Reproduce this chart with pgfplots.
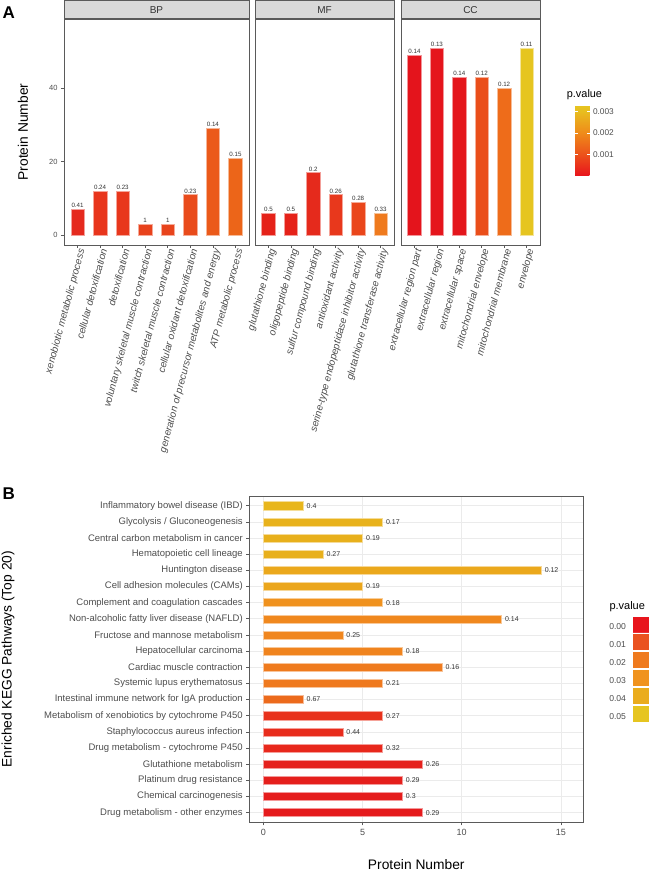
\documentclass[border=0pt]{standalone}
\usepackage{pgfplots}
\pgfplotsset{compat=1.18}
\usepackage{fontspec}
\setmainfont{Liberation Sans}
\newcommand{\fsz}[1]{\fontsize{#1}{#1}\selectfont}
\definecolor{tick}{HTML}{4D4D4D}
\definecolor{lab}{HTML}{333333}
\definecolor{frame}{HTML}{5A5A5A}
\definecolor{stripc}{HTML}{D9D9D9}
\definecolor{gridc}{HTML}{EBEBEB}
% panel A bar colours
\definecolor{bp1}{HTML}{E52A1E}\definecolor{bp2}{HTML}{E8351C}\definecolor{bp3}{HTML}{E8371C}
\definecolor{bp4}{HTML}{E8421C}\definecolor{bp5}{HTML}{E8441C}\definecolor{bp6}{HTML}{E94B1B}
\definecolor{bp7}{HTML}{EB5A1A}\definecolor{bp8}{HTML}{EC6519}
\definecolor{mf1}{HTML}{E52219}\definecolor{mf2}{HTML}{E52219}\definecolor{mf3}{HTML}{E52A1C}
\definecolor{mf4}{HTML}{E8381C}\definecolor{mf5}{HTML}{EA461B}\definecolor{mf6}{HTML}{EF7A1E}
\definecolor{cc1}{HTML}{E4141C}\definecolor{cc2}{HTML}{E5151C}\definecolor{cc3}{HTML}{E4161C}
\definecolor{cc4}{HTML}{EA4E1A}\definecolor{cc5}{HTML}{EE6C1A}\definecolor{cc6}{HTML}{E6C520}
% panel B bar colours (bottom to top)
\definecolor{k1}{HTML}{E51A1C}\definecolor{k2}{HTML}{E51D1C}\definecolor{k3}{HTML}{E51F1C}
\definecolor{k4}{HTML}{E5211C}\definecolor{k5}{HTML}{E8281C}\definecolor{k6}{HTML}{E82C1C}
\definecolor{k7}{HTML}{E8321C}\definecolor{k8}{HTML}{EC6A1C}\definecolor{k9}{HTML}{EF791E}
\definecolor{k10}{HTML}{EF7B1E}\definecolor{k11}{HTML}{F0841E}\definecolor{k12}{HTML}{F0861E}
\definecolor{k13}{HTML}{F0881E}\definecolor{k14}{HTML}{F0921E}\definecolor{k15}{HTML}{EBA61C}
\definecolor{k16}{HTML}{EBA81C}\definecolor{k17}{HTML}{E8B01C}\definecolor{k18}{HTML}{E8B01C}
\definecolor{k19}{HTML}{E8B21C}\definecolor{k20}{HTML}{E8B61C}
% legend B
\definecolor{lg0}{HTML}{E8151D}\definecolor{lg1}{HTML}{EA5220}\definecolor{lg2}{HTML}{EF7A1E}
\definecolor{lg3}{HTML}{F0931E}\definecolor{lg4}{HTML}{EAAC1D}\definecolor{lg5}{HTML}{E6C520}

\newcommand\vb[4]{\addplot[forget plot, ybar, bar width=0.6, bar shift=0pt, fill=#3, draw=#3!45!white, line width=0.5pt,
  nodes near coords={#4}, nodes near coords style={font=\fsz{6.2}, text=lab, anchor=south, inner sep=1.3pt}] coordinates {(#1,#2)};}
\newcommand\hb[4]{\addplot[forget plot, xbar, bar width=0.5, bar shift=0pt, fill=#3, draw=#3!45!white, line width=0.4pt,
  nodes near coords={#4}, nodes near coords style={font=\fsz{7}, text=lab, anchor=west, inner sep=0pt, xshift=3.5pt}] coordinates {(#2,#1)};}

\pgfplotsset{
  base/.style={
    scale only axis, enlargelimits=false,
    axis line style={draw=frame, line width=0.8pt},
    tick style={draw=frame, line width=0.6pt},
    tick align=outside, major tick length=3pt,
    xtick pos=left, ytick pos=left,
    /pgf/number format/assume math mode=true,
  },
  facet/.style={
    base, anchor=north west, height=226pt,
    ymin=-2.72, ymax=58.86,
    xticklabel style={font=\itshape\fsz{10}, text=tick, rotate=75, anchor=north east, inner sep=0pt},
    yticklabel style={font=\fsz{7.5}, text=tick},
    every axis title/.style={at={(0.5,1)}, anchor=south, draw=frame, fill=stripc, line width=0.8pt,
      minimum height=18pt, inner sep=0pt, font=\fsz{10}, text=lab},
  },
}

\begin{document}
\begin{tikzpicture}
\useasboundingbox (0,0) rectangle (650pt,-871pt);

% ---------- Panel A : BP ----------
\begin{axis}[facet, at={(64pt,-19pt)}, width=185pt,
  xmin=0.4, xmax=8.6, xtick={1,...,8},
  xticklabels={xenobiotic metabolic process, cellular detoxification, detoxification,
    voluntary skeletal muscle contraction, twitch skeletal muscle contraction,
    cellular oxidant detoxification, generation of precursor metabolites and energy, ATP metabolic process},
  ytick={0,20,40},
  title=BP, title style={minimum width=185pt},
  ylabel={Protein Number}, ylabel style={at={(axis description cs:-0.2216,0.5)}, anchor=center, font=\fsz{13.8}},
]
\vb{1}{7}{bp1}{0.41}
\vb{2}{12}{bp2}{0.24}
\vb{3}{12}{bp3}{0.23}
\vb{4}{3}{bp4}{1}
\vb{5}{3}{bp5}{1}
\vb{6}{11}{bp6}{0.23}
\vb{7}{29}{bp7}{0.14}
\vb{8}{21}{bp8}{0.15}
\end{axis}

% ---------- Panel A : MF ----------
\begin{axis}[facet, at={(255pt,-19pt)}, width=139pt,
  xmin=0.4, xmax=6.6, xtick={1,...,6}, ytick=\empty,
  xticklabels={glutathione binding, oligopeptide binding, sulfur compound binding, antioxidant activity,
    serine-type endopeptidase inhibitor activity, glutathione transferase activity},
  title=MF, title style={minimum width=139pt},
]
\vb{1}{6}{mf1}{0.5}
\vb{2}{6}{mf2}{0.5}
\vb{3}{17}{mf3}{0.2}
\vb{4}{11}{mf4}{0.26}
\vb{5}{9}{mf5}{0.28}
\vb{6}{6}{mf6}{0.33}
\end{axis}

% ---------- Panel A : CC ----------
\begin{axis}[facet, at={(401pt,-19pt)}, width=139pt,
  xmin=0.4, xmax=6.6, xtick={1,...,6}, ytick=\empty,
  xticklabels={extracellular region part, extracellular region, extracellular space,
    mitochondrial envelope, mitochondrial membrane, envelope},
  title=CC, title style={minimum width=139pt},
  colormap={pv}{rgb255(0)=(232,20,28) rgb255(10)=(236,82,27) rgb255(20)=(239,139,26) rgb255(30)=(232,189,31) rgb255(33)=(230,197,32)},
  point meta min=0, point meta max=0.0033,
  colorbar,
  colorbar style={at={(parent axis.north east)}, anchor=north west, xshift=26.7pt, yshift=-86pt,
    scale only axis, width=14.3pt, height=70.7pt,
    ytick={0.001,0.002,0.003}, yticklabels={0.001,0.002,0.003}, scaled y ticks=false,
    yticklabel style={font=\fsz{8.3}, text=tick},
    tick align=inside, major tick length=2.5pt, tick style={draw=white, line width=0.4pt},
    axis line style={draw=none},
  },
]
\vb{1}{49}{cc1}{0.14}
\vb{2}{51}{cc2}{0.13}
\vb{3}{43}{cc3}{0.14}
\vb{4}{43}{cc4}{0.12}
\vb{5}{40}{cc5}{0.12}
\vb{6}{51}{cc6}{0.11}
\end{axis}

% ---------- Panel B ----------
\begin{axis}[base, at={(249.3pt,-496pt)}, anchor=north west, width=334pt, height=326.3pt,
  xmin=-0.71, xmax=16.13, ymin=0.4, ymax=20.6,
  xtick={0,5,10,15}, ytick={1,...,20},
  yticklabels={Drug metabolism - other enzymes, Chemical carcinogenesis, Platinum drug resistance,
    Glutathione metabolism, Drug metabolism - cytochrome P450, Staphylococcus aureus infection,
    Metabolism of xenobiotics by cytochrome P450, Intestinal immune network for IgA production,
    Systemic lupus erythematosus, Cardiac muscle contraction, Hepatocellular carcinoma,
    Fructose and mannose metabolism, Non-alcoholic fatty liver disease (NAFLD),
    Complement and coagulation cascades, Cell adhesion molecules (CAMs), Huntington disease,
    Hematopoietic cell lineage, Central carbon metabolism in cancer, Glycolysis / Gluconeogenesis,
    Inflammatory bowel disease (IBD)},
  grid=major, grid style={draw=gridc, line width=0.6pt},
  xticklabel style={font=\fsz{9}, text=tick},
  yticklabel style={font=\fsz{9.5}, text=tick},
  xlabel={Protein Number}, xlabel style={at={(axis description cs:0.5,-0.144)}, anchor=base, font=\fsz{13.8}},
  ylabel={Enriched KEGG Pathways (Top 20)}, ylabel style={at={(axis description cs:-0.7225,0.5)}, anchor=center, font=\fsz{13.8}},
  legend plot pos=right, legend cell align=left,
  legend image code/.code={\fill[#1] (0pt,-4.9pt) rectangle (16.5pt,11.1pt);
    \draw[white, line width=0.8pt] (0pt,-5.3pt) -- (16.5pt,-5.3pt);},
  legend style={at={(1.0778,0.6307)}, anchor=north west, draw=none, fill=none, inner sep=0pt, outer sep=0pt,
    row sep=1.1pt, column sep=6.5pt, font=\fsz{8.6}, text=tick, nodes={inner sep=0pt}},
]
\addlegendimage{draw=none, fill=lg0}\addlegendentry{0.00}
\addlegendimage{draw=none, fill=lg1}\addlegendentry{0.01}
\addlegendimage{draw=none, fill=lg2}\addlegendentry{0.02}
\addlegendimage{draw=none, fill=lg3}\addlegendentry{0.03}
\addlegendimage{draw=none, fill=lg4}\addlegendentry{0.04}
\addlegendimage{draw=none, fill=lg5}\addlegendentry{0.05}
\hb{1}{8}{k1}{0.29}
\hb{2}{7}{k2}{0.3}
\hb{3}{7}{k3}{0.29}
\hb{4}{8}{k4}{0.26}
\hb{5}{6}{k5}{0.32}
\hb{6}{4}{k6}{0.44}
\hb{7}{6}{k7}{0.27}
\hb{8}{2}{k8}{0.67}
\hb{9}{6}{k9}{0.21}
\hb{10}{9}{k10}{0.16}
\hb{11}{7}{k11}{0.18}
\hb{12}{4}{k12}{0.25}
\hb{13}{12}{k13}{0.14}
\hb{14}{6}{k14}{0.18}
\hb{15}{5}{k15}{0.19}
\hb{16}{14}{k16}{0.12}
\hb{17}{3}{k17}{0.27}
\hb{18}{5}{k18}{0.19}
\hb{19}{6}{k19}{0.17}
\hb{20}{2}{k20}{0.4}
\end{axis}

% ---------- text labels ----------
\node[anchor=base west, font=\bfseries\fsz{17}, inner sep=0pt] at (2.5pt,-18.3pt) {A};
\node[anchor=base west, font=\bfseries\fsz{17}, inner sep=0pt] at (2.5pt,-499.5pt) {B};
\node[anchor=base west, font=\fsz{10.9}, inner sep=0pt] at (566.7pt,-97.3pt) {p.value};
\node[anchor=base west, font=\fsz{11}, inner sep=0pt] at (609.3pt,-609.3pt) {p.value};
\end{tikzpicture}
\end{document}
